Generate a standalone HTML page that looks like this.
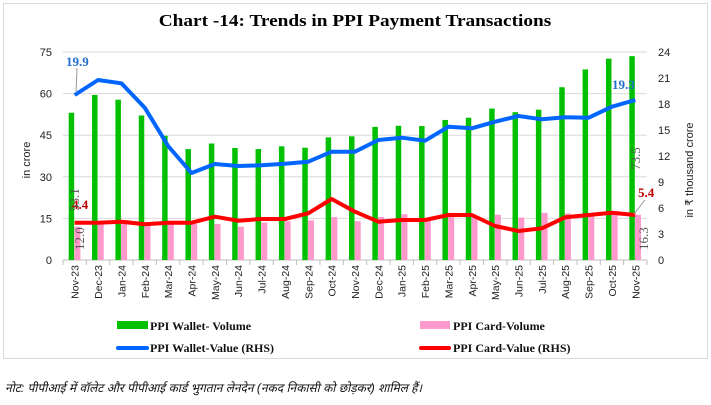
<!DOCTYPE html>
<html><head><meta charset="utf-8"><style>
body{margin:0;background:#fff;width:711px;height:405px;overflow:hidden}
svg{display:block}
</style></head><body>
<svg id="s" width="711" height="405" xmlns="http://www.w3.org/2000/svg" font-family="Liberation Sans, sans-serif">
<rect x="3.5" y="3.5" width="704" height="355" fill="#fff" stroke="#d9d9d9"/>
<text x="355" y="26" text-anchor="middle" font-family="Liberation Serif, serif" font-weight="bold" font-size="16.5" transform="translate(355,0) scale(1.17,1) translate(-355,0)">Chart -14: Trends in PPI Payment Transactions</text>
<g id="g"></g>
<text transform="translate(30,160) rotate(-90)" text-anchor="middle" font-size="11" fill="#222">in crore</text>
<text transform="translate(693,170) rotate(-90)" text-anchor="middle" font-size="11" fill="#222">in ₹ thousand crore</text>
<rect x="117" y="321" width="31" height="8" fill="#00c000"/>
<text x="150" y="330" font-family="Liberation Serif, serif" font-weight="bold" font-size="12" fill="#111">PPI Wallet- Volume</text>
<rect x="420" y="321" width="30" height="8" fill="#ff99cc"/>
<text x="453" y="330" font-family="Liberation Serif, serif" font-weight="bold" font-size="12" fill="#111">PPI Card-Volume</text>
<line x1="118" y1="348" x2="147" y2="348" stroke="#0066ff" stroke-width="4" stroke-linecap="round"/>
<text x="150" y="352" font-family="Liberation Serif, serif" font-weight="bold" font-size="12" fill="#111">PPI Wallet-Value (RHS)</text>
<line x1="421" y1="348" x2="449" y2="348" stroke="#ff0000" stroke-width="4" stroke-linecap="round"/>
<text x="453" y="352" font-family="Liberation Serif, serif" font-weight="bold" font-size="12" fill="#111">PPI Card-Value (RHS)</text>
<text x="5" y="392" font-style="italic" font-size="12" font-family="Liberation Sans, Noto Sans CJK SC, sans-serif" fill="#111">नोट: पीपीआई में वॉलेट और पीपीआई कार्ड भुगतान लेनदेन (नकद निकासी को छोड़कर) शामिल हैं।</text>
</svg>
<script>
var g=document.getElementById('g'),h='';
var x0=63,x1=647,w=(x1-x0)/25,yb=260,yt=52;
function Y(v){return yb-v/75*(yb-yt)}
for(var i=0;i<=5;i++){var y=Y(i*15);
 if(i>0)h+='<line x1="'+x0+'" y1="'+y+'" x2="'+x1+'" y2="'+y+'" stroke="#d9d9d9"/>';
 h+='<text x="52" y="'+(y+4)+'" text-anchor="end" font-size="11" fill="#222">'+(i*15)+'</text>';}
for(var i=0;i<=8;i++){var y=yb-i*26;h+='<text x="658" y="'+(y+4)+'" font-size="11" fill="#222">'+(i*3)+'</text>';}
h+='<line x1="'+x0+'" y1="'+yb+'" x2="'+x1+'" y2="'+yb+'" stroke="#bfbfbf"/>';
var gv=[53.1,59.5,57.8,52.1,44.8,40,42,40.4,40,41,40.5,44.2,44.6,48,48.4,48.3,50.5,51.3,54.6,53.3,54.2,62.3,68.7,72.6,73.5];
var pv=[12,13,13,12.5,13,13,13,12,13.5,14,14.3,15.5,14,15.5,16.5,15.2,17,16,16.3,15.3,17,16.8,16.5,16.8,16.3];
var by=[95,80,83.3,107.7,146,173,164,166,165.3,163.7,161.7,151.7,151.7,140,137.7,140.7,126.7,128.3,121.7,116,119.3,117.3,117.7,106.7,100];
var ry=[222.7,222.7,221.7,224.3,222.7,222.7,216.7,220.7,219,219,213.3,199,211.7,221.7,220,220,215,215,226,231,228.3,217.3,215,212.7,215];
var labs=['Nov-23','Dec-23','Jan-24','Feb-24','Mar-24','Apr-24','May-24','Jun-24','Jul-24','Aug-24','Sep-24','Oct-24','Nov-24','Dec-24','Jan-25','Feb-25','Mar-25','Apr-25','May-25','Jun-25','Jul-25','Aug-25','Sep-25','Oct-25','Nov-25'];
var bp='',rp='';
for(var i=0;i<25;i++){var c=x0+w*(i+.5);
 h+='<rect x="'+(c-6)+'" y="'+Y(gv[i])+'" width="5.5" height="'+(yb-Y(gv[i]))+'" fill="#00c000"/>';
 h+='<rect x="'+(c-0.3)+'" y="'+Y(pv[i])+'" width="6" height="'+(yb-Y(pv[i]))+'" fill="#ff99cc"/>';
 h+='<line x1="'+(x0+w*i)+'" y1="'+yb+'" x2="'+(x0+w*i)+'" y2="'+(yb+5)+'" stroke="#bfbfbf"/>';
 h+='<text transform="translate('+(c+4)+',265) rotate(-90)" text-anchor="end" font-size="10.5" fill="#222">'+labs[i]+'</text>';
 bp+=(i?'L':'M')+c+','+by[i];rp+=(i?'L':'M')+c+','+ry[i];}
h+='<line x1="'+x1+'" y1="'+yb+'" x2="'+x1+'" y2="'+(yb+5)+'" stroke="#bfbfbf"/>';
h+='<path d="'+bp+'" fill="none" stroke="#0066ff" stroke-width="4" stroke-linejoin="round"/>';
h+='<path d="'+rp+'" fill="none" stroke="#ff0000" stroke-width="4" stroke-linejoin="round"/>';
var sf='font-family="Liberation Serif, serif" font-weight="bold" font-size="13"';
h+='<line x1="76" y1="93" x2="77" y2="68" stroke="#999"/>';
h+='<text x="66" y="66" '+sf+' fill="#1f6fd0">19.9</text>';
h+='<text x="612" y="89" '+sf+' fill="#1f6fd0">19.3</text>';
h+='<text x="72" y="209" '+sf+' fill="#c00000">4.4</text>';
h+='<text x="638" y="197" '+sf+' fill="#c00000">5.4</text>';
h+='<line x1="634" y1="214" x2="645" y2="200" stroke="#999"/>';
var gs='font-family="Liberation Serif, serif" font-size="13" fill="#555"';
h+='<text transform="translate(79,211) rotate(-90)" '+gs+'>53.1</text>';
h+='<text transform="translate(84,250) rotate(-90)" '+gs+'>12.0</text>';
h+='<text transform="translate(640,170) rotate(-90)" '+gs+'>73.5</text>';
h+='<text transform="translate(648,250) rotate(-90)" '+gs+'>16.3</text>';
g.innerHTML=h;
</script>
</body></html>
